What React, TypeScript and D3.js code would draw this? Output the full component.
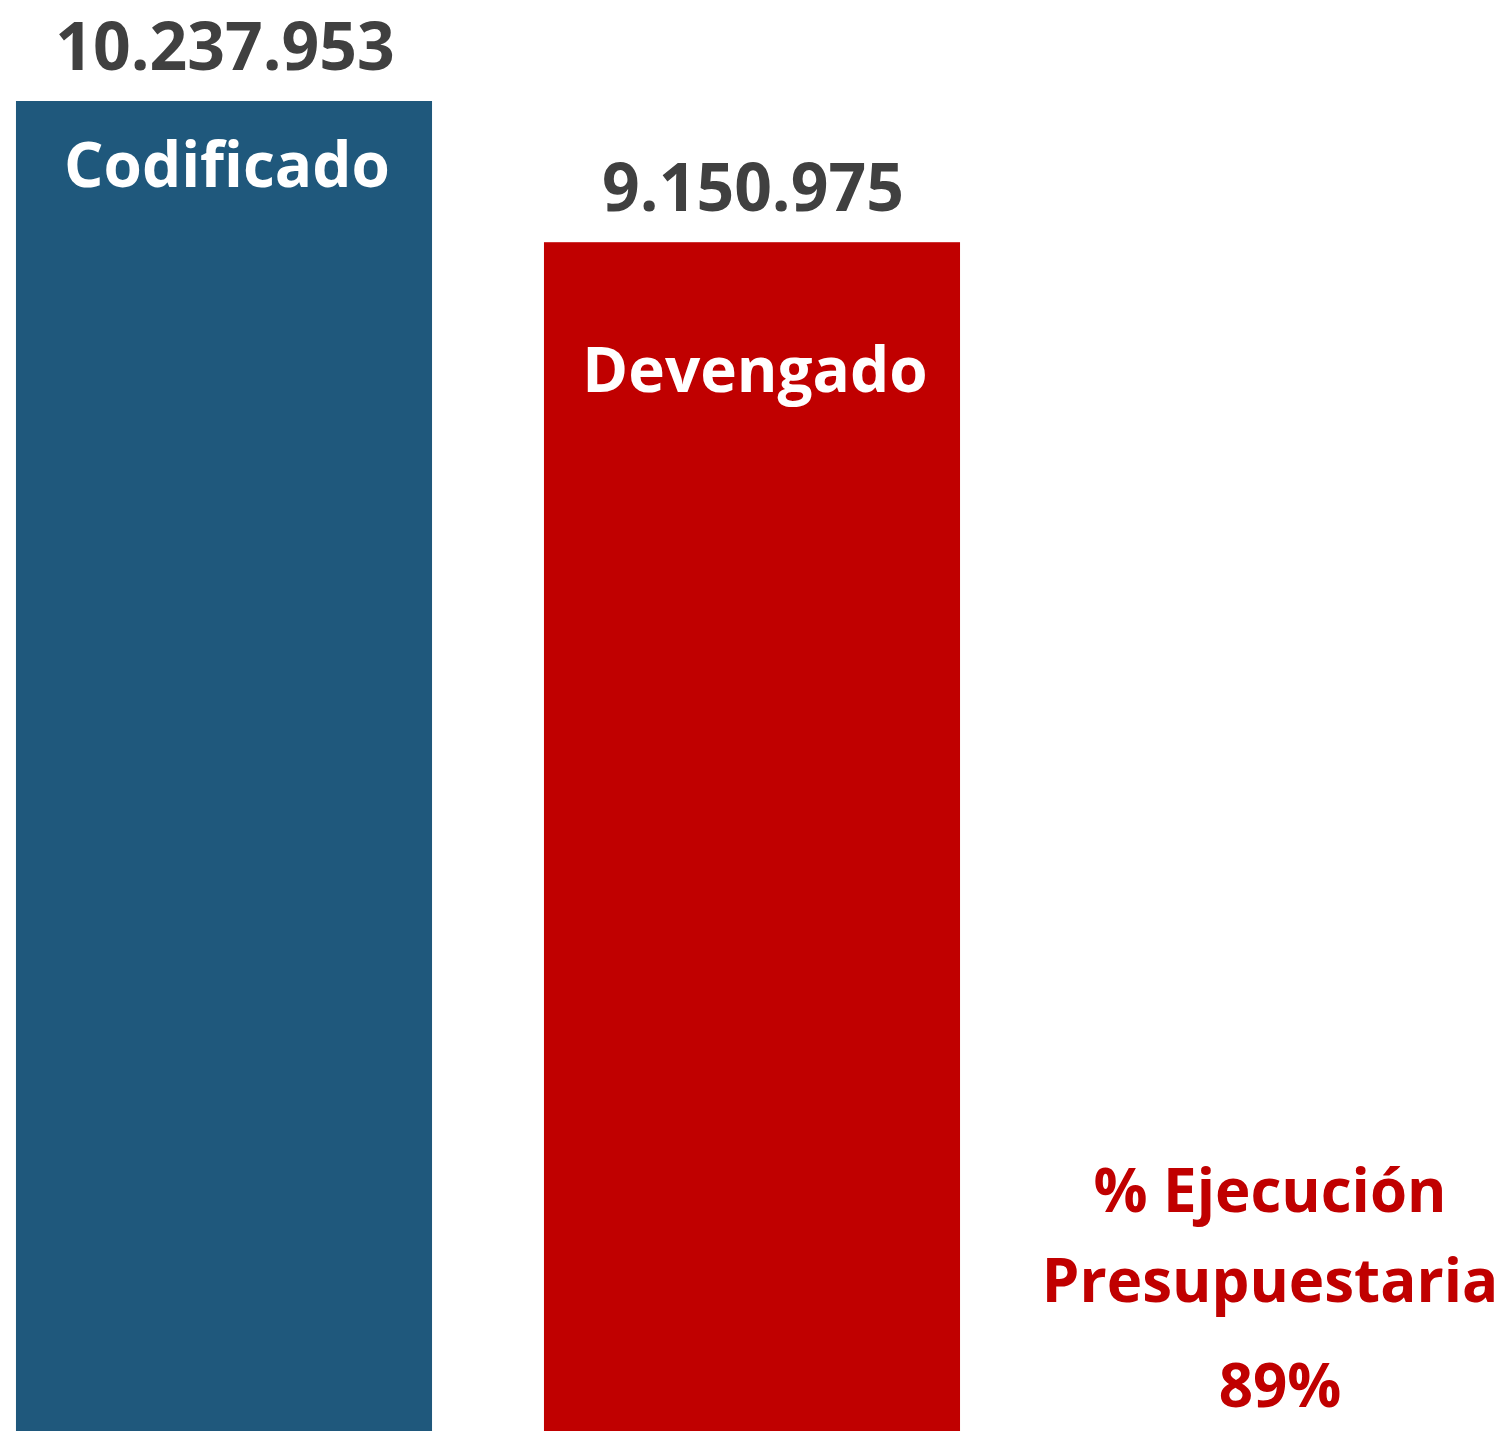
import React from 'react';
import * as d3 from 'd3';

const categories = ['Codificado', 'Devengado', ''];
const values = [10237953, 9150975];
const barColors = ['#1F587C', '#C00000'];
const executionLines = ['% Ejecución', 'Presupuestaria', '89%'];

const W = 1510;
const H = 1431;
const FONT = '"Open Sans", "Liberation Sans", sans-serif';

const locale = d3.formatLocale({ decimal: ',', thousands: '.', grouping: [3], currency: ['$', ''] });
const fmt = locale.format(',d');

const App = () => {
  const x = d3.scaleBand()
    .domain(categories)
    .range([-40, 1544])
    .paddingInner(0.212)
    .paddingOuter(0.106);

  const y = d3.scaleLinear()
    .domain([0, d3.max(values) || 0])
    .range([H, 101]);

  // inside label offsets below bar top (they were placed by hand in the original)
  const insideOffset = [86, 150];
  const execX = (x('') || 0) + x.bandwidth() / 2 - 10;
  const execY = [1212, 1302, 1407];

  return (
    <svg width={W} height={H} style={{ position: 'absolute', left: 0, top: 0, display: 'block' }}>
      <rect width={W} height={H} fill="#ffffff" />
      {values.map((v, i) => {
        const cx = (x(categories[i]) || 0) + x.bandwidth() / 2;
        return (
          <g key={categories[i]}>
            <rect
              x={x(categories[i])}
              y={y(v)}
              width={x.bandwidth()}
              height={H - y(v)}
              fill={barColors[i]}
            />
            <text
              x={cx + 1}
              y={y(v) - 31}
              textAnchor="middle"
              fontFamily={FONT}
              fontWeight="bold"
              fontSize={66}
              fill="#404040"
            >
              {fmt(v)}
            </text>
            <text
              x={cx + 3}
              y={y(v) + insideOffset[i]}
              textAnchor="middle"
              fontFamily={FONT}
              fontWeight="bold"
              fontSize={62}
              fill="#ffffff"
            >
              {categories[i]}
            </text>
          </g>
        );
      })}
      {executionLines.map((line, i) => (
        <text
          key={line}
          x={execX + (i === 2 ? 10 : 0)}
          y={execY[i]}
          textAnchor="middle"
          fontFamily={FONT}
          fontWeight="bold"
          fontSize={60}
          fill="#C00000"
        >
          {line}
        </text>
      ))}
    </svg>
  );
};

export default App;
